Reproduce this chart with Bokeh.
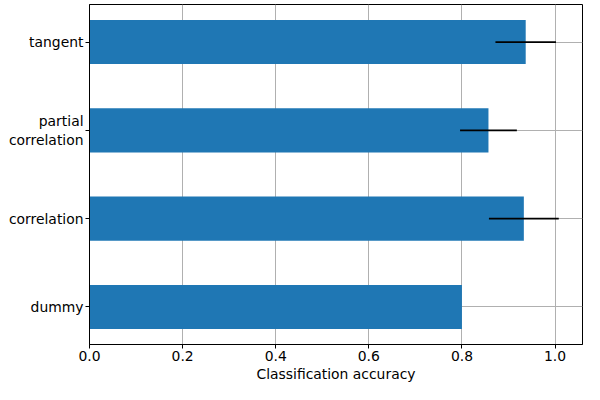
from bokeh.plotting import figure
from bokeh.models import FixedTicker, Range1d, PrintfTickFormatter
from bokeh.embed import file_html
from bokeh.resources import INLINE

categories = ["dummy", "correlation", "partial\ncorrelation", "tangent"]
accuracy = [0.800, 0.933, 0.857, 0.937]
accuracy_std = [0.0, 0.075, 0.061, 0.065]
x_ticks = [0.0, 0.2, 0.4, 0.6, 0.8, 1.0]

pos = list(range(len(categories)))
lo = [a - s for a, s in zip(accuracy, accuracy_std)]
hi = [a + s for a, s in zip(accuracy, accuracy_std)]

p = figure(width=584, height=384, output_backend="svg", toolbar_location=None,
           x_range=Range1d(0, 1.059), y_range=Range1d(-0.425, 3.425),
           min_border_left=89, min_border_right=2, min_border_top=4, min_border_bottom=36)
p.background_fill_color = "white"
p.border_fill_color = "white"
p.outline_line_color = "black"
p.outline_line_width = 1

p.hbar(y=pos, right=accuracy, left=0, height=0.5, color="#1f77b4", line_color=None)
p.segment(x0=lo, y0=pos, x1=hi, y1=pos, line_color="black", line_width=1.8)

p.xaxis.ticker = FixedTicker(ticks=x_ticks)
p.xaxis.formatter = PrintfTickFormatter(format="%.1f")
p.yaxis.ticker = FixedTicker(ticks=pos)
p.yaxis.major_label_overrides = {i: c for i, c in zip(pos, categories)}
p.yaxis.major_label_text_align = "right"
p.xaxis.axis_label = "Classification accuracy"

for ax in (p.xaxis, p.yaxis):
    ax.axis_line_color = "black"
    ax.major_tick_line_color = "black"
    ax.major_tick_out = 4
    ax.major_tick_in = 0
    ax.minor_tick_line_color = None
    ax.major_label_text_font = "DejaVu Sans"
    ax.major_label_text_font_size = "13.9px"
    ax.major_label_text_color = "black"
    ax.major_label_standoff = 2
    ax.axis_label_text_font = "DejaVu Sans"
    ax.axis_label_text_font_size = "13.9px"
    ax.axis_label_text_font_style = "normal"
    ax.axis_label_text_color = "black"
    ax.axis_label_standoff = 2

p.grid.grid_line_color = "#b0b0b0"
p.grid.grid_line_width = 1
p.xgrid.ticker = FixedTicker(ticks=x_ticks)
p.ygrid.ticker = FixedTicker(ticks=pos)

open("out.html", "w").write(file_html(p, INLINE))
